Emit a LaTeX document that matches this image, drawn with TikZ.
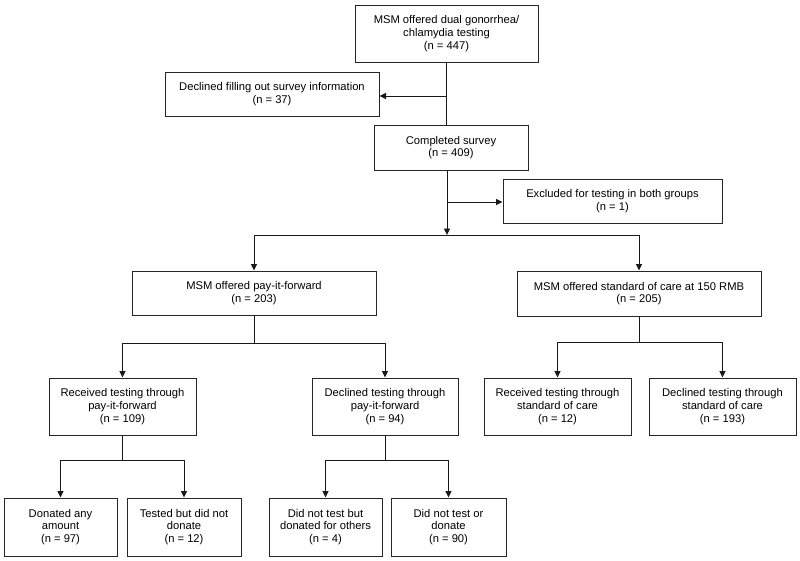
\documentclass[tikz,border=0pt]{standalone}
\usepackage{fontspec}
\setmainfont{Liberation Sans}
\usetikzlibrary{arrows.meta}
\tikzset{
  box/.style={draw=black!85, line width=1pt, rectangle, inner sep=0pt, align=center,
    font=\fontsize{11.2}{12.6}\selectfont, text=black},
  link/.style={draw=black!90, line width=0.95pt},
  arr/.style={link, -{Triangle[length=6.5pt,width=6pt]}}
}
\begin{document}
\begin{tikzpicture}[x=1pt,y=-1pt]
\useasboundingbox (0,0) rectangle (800,560);
\node[box, minimum width=183pt, minimum height=57pt] (top) at (446.5,33.5) {MSM offered dual gonorrhea/\\chlamydia testing\\(n = 447)};
\node[box, minimum width=214pt, minimum height=44pt] (decl) at (272,94) {Declined filling out survey information\\(n = 37)};
\node[box, minimum width=154pt, minimum height=45pt] (comp) at (451,147.5) {Completed survey\\(n = 409)};
\node[box, minimum width=219pt, minimum height=44pt] (excl) at (612.5,201) {Excluded for testing in both groups\\(n = 1)};
\node[box, minimum width=244pt, minimum height=44pt] (pif) at (254,293) {MSM offered pay-it-forward\\(n = 203)};
\node[box, minimum width=244pt, minimum height=45pt] (soc) at (639,293.5) {MSM offered standard of care at 150 RMB\\(n = 205)};
\node[box, minimum width=147pt, minimum height=57pt] (rpif) at (122.5,406.5) {Received testing through\\pay-it-forward\\(n = 109)};
\node[box, minimum width=146pt, minimum height=57pt] (dpif) at (385,406.5) {Declined testing through\\pay-it-forward\\(n = 94)};
\node[box, minimum width=147pt, minimum height=57pt] (rsoc) at (557.5,406.5) {Received testing through\\standard of care\\(n = 12)};
\node[box, minimum width=147pt, minimum height=57pt] (dsoc) at (722.5,406.5) {Declined testing through\\standard of care\\(n = 193)};
\node[box, minimum width=113pt, minimum height=58pt] (don) at (60.5,527) {Donated any\\amount\\(n = 97)};
\node[box, minimum width=114pt, minimum height=58pt] (tst) at (184,527) {Tested but did not\\donate\\(n = 12)};
\node[box, minimum width=113pt, minimum height=58pt] (dntd) at (325.5,527) {Did not test but\\donated for others\\(n = 4)};
\node[box, minimum width=115pt, minimum height=58pt] (dnd) at (448.5,527) {Did not test or\\donate\\(n = 90)};
% spine
\coordinate (s1) at (446,62);
\coordinate (s2) at (446,125);
\coordinate (s3) at (446,96);
\draw[link] (s1) -- (s2);
\draw[arr] (s3) -- (s3 -| decl.east);
\coordinate (c1) at (447,170);
\coordinate (c2) at (447,235);
\coordinate (c3) at (447,202);
\draw[arr] (c1) -- (c2);
\draw[arr] (c3) -- (c3 -| excl.west);
\coordinate (hl) at (254,235);
\coordinate (hr) at (639,235);
\draw[link] (hl) -- (hr);
\draw[arr] (hl) -- (pif.north);
\draw[arr] (hr) -- (soc.north);
% pay-it-forward split
\coordinate (j1) at (254,343);
\draw[link] (pif.south) -- (j1);
\draw[arr] (j1) -| (rpif.north);
\draw[arr] (j1) -| (dpif.north);
% standard of care split
\coordinate (j2) at (639,342);
\draw[link] (soc.south) -- (j2);
\draw[arr] (j2) -| (rsoc.north);
\draw[arr] (j2) -| (dsoc.north);
% received pif split
\coordinate (j3) at (122.5,460);
\draw[link] (rpif.south) -- (j3);
\draw[arr] (j3) -| (don.north);
\draw[arr] (j3) -| (tst.north);
% declined pif split
\coordinate (j4) at (385,460);
\draw[link] (dpif.south) -- (j4);
\draw[arr] (j4) -| (dntd.north);
\draw[arr] (j4) -| (dnd.north);
\end{tikzpicture}
\end{document}
